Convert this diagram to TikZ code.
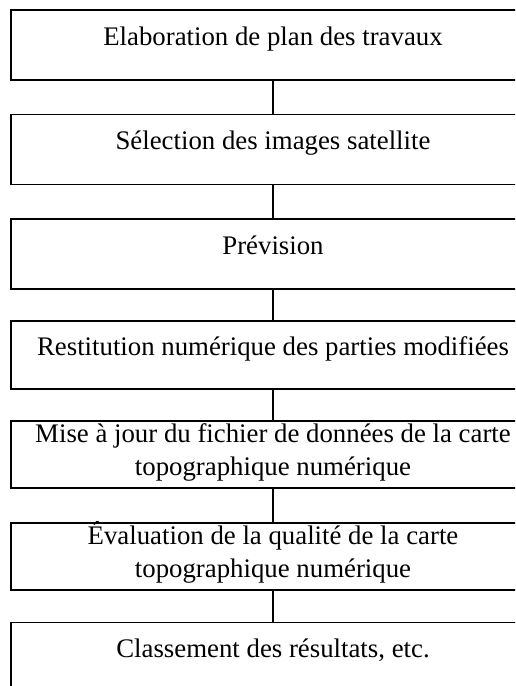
\documentclass[tikz,border=0pt]{standalone}
\usepackage{fontspec}
\setmainfont{Liberation Serif}
\usepackage{tikz}

\begin{document}
\begin{tikzpicture}[x=1pt, y=1pt, line width=1.8pt,
    stage/.style={draw, rectangle, minimum width=524pt, minimum height=67pt, inner sep=0pt, align=center, text height=54.5pt, text depth=12.5pt, font=\fontsize{26.8}{33}\selectfont},
    stage one/.style={stage, minimum height=70pt, inner sep=3pt, text height=0.72em, text depth=0.72em}]
    \useasboundingbox (0, 0) rectangle (515, -686);
    \clip (0, 0) rectangle (515, -686);

    \node (plan) [stage one, at={(273, -45)}] {Elaboration de plan des travaux};
    \node (selection) [stage one, at={(273, -149.5)}] {Sélection des images satellite};
    \node (prevision) [stage one, at={(273, -254)}] {Prévision};
    \node (restitution) [stage one, minimum height=68pt, at={(273, -355)}] {Restitution numérique des parties modifiées};
    \node (miseajour) [stage, at={(273, -454.5)}] {Mise à jour du fichier de données de la carte\\topographique numérique};
    \node (evaluation) [stage, at={(273, -556.5)}] {Évaluation de la qualité de la carte\\topographique numérique};
    \node (classement) [stage one, at={(273, -657.5)}] {Classement des résultats, etc.};

    \draw (plan) -- (selection);
    \draw (selection) -- (prevision);
    \draw (prevision) -- (restitution);
    \draw (restitution) -- (miseajour);
    \draw (miseajour) -- (evaluation);
    \draw (evaluation) -- (classement);
\end{tikzpicture}
\end{document}
